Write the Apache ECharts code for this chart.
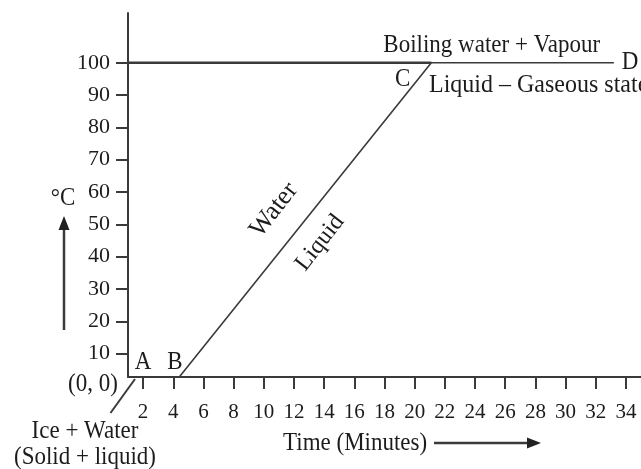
<!DOCTYPE html>
<html>
<head>
<meta charset="utf-8">
<script src="https://cdn.jsdelivr.net/npm/echarts@6/dist/echarts.min.js"></script>
<style>
html,body{margin:0;padding:0;background:#fff;}
#chart{width:641px;height:469px;}
</style>
</head>
<body>
<div id="chart"></div>
<script>
// Data
const timeMinutes = [1, 4.4, 21.1, 33.2];       // A, B, C, D
const temperatureC = [2.75, 2.75, 100, 100];
const guideTime = [1, 21.1];                    // horizontal 100 °C line from axis to C
const guideTemp = [100, 100];
const xTickValues = [2, 4, 6, 8, 10, 12, 14, 16, 18, 20, 22, 24, 26, 28, 30, 32, 34];
const yTickValues = [10, 20, 30, 40, 50, 60, 70, 80, 90, 100];

const FONT = '"Liberation Serif", "DejaVu Serif", serif';
const INK = '#1c1c1c';
const LINE = '#3a3a3a';

const chart = echarts.init(document.getElementById('chart'), null, {renderer: 'canvas'});

function pairs(xs, ys) { return xs.map((x, i) => [x, ys[i]]); }

function txt(text, x, y, size, opts) {
  opts = opts || {};
  return {
    type: 'text', x: x, y: y, rotation: opts.rotation || 0, scaleY: opts.scaleY || 1.08, z: 10,
    style: {
      text: text, fontFamily: FONT, fontSize: size, fill: INK,
      align: opts.align || 'center', verticalAlign: 'middle'
    }
  };
}

chart.setOption({
  animation: false,
  backgroundColor: '#ffffff',
  grid: {left: 128, right: 0, top: 13, bottom: 92, containLabel: false},
  xAxis: {
    type: 'value', min: 1, max: 35,
    axisLine: {show: true, lineStyle: {color: LINE, width: 2}},
    axisTick: {show: true, customValues: xTickValues, length: 12, lineStyle: {color: LINE, width: 2}},
    axisLabel: {customValues: xTickValues, margin: 25, color: INK, fontFamily: FONT, fontSize: 21},
    splitLine: {show: false}
  },
  yAxis: {
    type: 'value', min: 2.75, max: 115.4,
    axisLine: {show: true, lineStyle: {color: LINE, width: 2}},
    axisTick: {show: true, customValues: yTickValues, length: 12, lineStyle: {color: LINE, width: 2}},
    axisLabel: {customValues: yTickValues, margin: 18, color: INK, fontFamily: FONT, fontSize: 22},
    splitLine: {show: false}
  },
  series: [
    {
      type: 'line', data: pairs(guideTime, guideTemp), symbol: 'none',
      lineStyle: {color: LINE, width: 2.5}, clip: false
    },
    {
      type: 'line', data: pairs(timeMinutes, temperatureC), symbol: 'none',
      lineStyle: {color: LINE, width: 1.6}, clip: false
    }
  ],
  graphic: [
    txt('°C', 63, 198, 23),
    {type: 'line', shape: {x1: 64, y1: 330, x2: 64, y2: 226}, style: {stroke: LINE, lineWidth: 2.5}},
    {type: 'polygon', shape: {points: [[64, 216], [58.5, 230], [69.5, 230]]}, style: {fill: '#222'}},
    txt('A', 143, 362, 23),
    txt('B', 175, 362, 23),
    txt('C', 402.7, 79, 23),
    txt('D', 630, 62, 23),
    txt('(0, 0)', 93, 384, 23),
    {type: 'line', shape: {x1: 135, y1: 379, x2: 110.5, y2: 413}, style: {stroke: LINE, lineWidth: 2}},
    txt('Ice + Water', 85, 431, 23),
    txt('(Solid + liquid)', 85, 457, 23),
    txt('Boiling water + Vapour', 491.7, 45, 23),
    txt('Liquid \u2013 Gaseous state', 429, 85, 24, {align: 'left'}),
    txt('Water', 274, 210, 26, {rotation: 52 * Math.PI / 180, scaleY: 1}),
    txt('Liquid', 320, 243, 24, {rotation: 52 * Math.PI / 180, scaleY: 1}),
    txt('Time (Minutes)', 283, 443, 23, {align: 'left'}),
    {type: 'line', shape: {x1: 434, y1: 443, x2: 530, y2: 443}, style: {stroke: LINE, lineWidth: 2.5}},
    {type: 'polygon', shape: {points: [[541, 443], [527, 437.5], [527, 448.5]]}, style: {fill: '#222'}}
  ]
});
</script>
</body>
</html>
